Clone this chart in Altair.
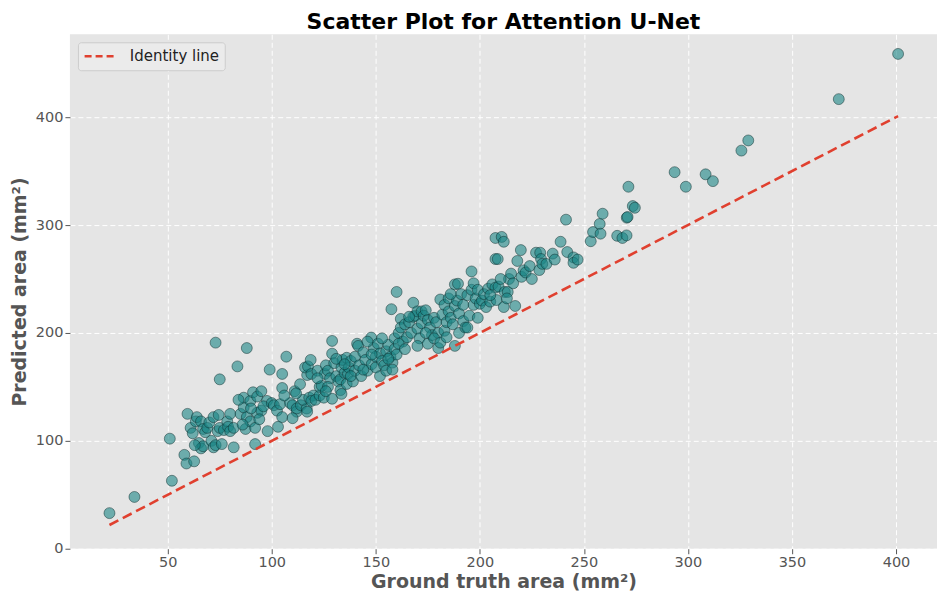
import altair as alt
import pandas as pd

gt_area = [
    22, 34, 51, 52, 58, 59, 59.5, 61, 62, 62.7, 63.5, 64,
    65, 66, 66, 67, 67, 68, 69, 70, 71, 72, 72, 73, 73, 74, 75, 75, 74.5, 76, 77, 78.6, 79, 80, 80, 63,
    81.7, 81.7, 83.5, 85, 86.5, 86.5, 88, 88, 87.4, 89.7, 89.7, 91, 92, 92, 93, 93, 95, 95, 98, 97.7, 99, 84, 90, 96, 86, 94,
    100, 101, 102.5, 104, 105, 105, 105, 107, 108.8, 110, 111, 112, 113.6, 112, 114, 116.8, 117, 115, 118, 117, 116, 117.4, 118.7, 119, 120, 103, 110, 106, 111.7, 119,
    121, 122, 123, 123, 124, 125, 125.5, 126, 127, 128, 129, 129, 129, 130, 131, 132, 133, 133, 133.5, 133.5, 134, 135, 136, 136, 136.6, 137, 138, 139, 140, 140, 141, 131, 127, 135, 138, 126, 122,
    141.5, 142, 143, 144, 145, 146, 147.8, 148, 149, 150, 150, 151, 152, 152, 153, 154, 155, 155, 156, 157, 157.5, 158, 158, 159, 159, 160, 160, 144, 146, 148, 153, 156,
    161, 162, 162, 163, 164, 165, 166, 167, 168, 168, 169, 170, 170, 171, 172, 172, 173, 174, 175, 175, 176, 177, 178, 179, 180, 180, 161, 164, 166, 170, 174, 178,
    181, 181, 182, 183, 183, 184, 185, 185, 186, 187, 188, 188, 189, 189.5, 190, 190, 191, 192, 192, 193, 194, 195, 196, 196, 197, 197, 198, 199, 200, 184, 188, 194, 199, 186,
    201, 202, 203, 204, 205, 206, 207.5, 207.5, 207.5, 208, 208.6, 209, 210.5, 211.5, 211.5, 212, 213.4, 214, 215, 216, 217, 218, 219.7, 220, 221, 213, 210, 205,
    222, 224, 225, 227, 228.6, 229, 229.4, 230, 232, 235, 236, 238.8, 241.4, 242, 245, 245, 247, 253.3, 254.4, 257.6, 258, 259,
    266, 268.5, 270.5, 270.6, 271, 271.4, 273.5, 274.5, 293.6, 299, 308.5, 312, 325.7, 329, 372.5, 401,
]

# Predicted areas (mm²), same order
pred_area = [
    33, 48, 102, 63, 87, 79, 125, 112, 107, 81, 118, 122,
    98, 118, 93, 95, 111, 108, 112, 117, 100, 122, 94, 191, 96, 109, 157, 112, 124, 97, 110, 118, 113, 109, 125, 96,
    112, 94, 169, 125, 131, 140, 186, 122, 111, 137, 118, 145, 112, 97, 141, 126, 146, 128, 109, 137, 166, 138, 130, 132, 115, 120,
    135, 133, 128, 134, 162, 149, 122, 178, 135, 133, 146, 127, 152.5, 130, 133, 130, 127, 138, 140, 161, 168, 169, 175, 162, 142, 113, 121, 142, 144, 137,
    138, 165, 142, 150, 151, 140, 162, 170, 165, 158, 192.6, 180.8, 139, 172, 160, 155, 157, 147, 168, 143.5, 175, 163, 177, 152.7, 162, 168, 174, 155, 165, 178, 190, 176, 150, 171, 160, 146, 158,
    188, 170, 160, 182, 175, 165, 195.7, 171, 186, 178, 168, 190, 160, 181, 174, 170, 183, 165, 189, 178, 222, 172.5, 166, 185, 195, 238, 180, 166, 192, 180, 195, 176,
    200, 213, 205, 192, 208, 196, 210, 200, 228, 215, 216, 204, 220, 195, 220, 209, 216, 221, 190, 212, 205, 198, 214, 210, 186, 200, 190, 185, 215, 188, 200, 195,
    191, 231, 217, 202, 226, 210, 232, 220, 214, 208, 245, 225, 230, 245.6, 218, 200, 236, 211, 226, 205, 235, 216, 257, 240, 246, 226, 232, 214, 227, 196, 188, 205, 240, 236,
    230, 236, 224, 241, 229, 245, 288, 268.5, 242, 230.5, 268.5, 243, 289, 284.5, 224, 238, 238, 250, 255, 246, 225, 266.7, 276.8, 252, 258, 232, 250, 235,
    256, 262, 250, 274.4, 258.3, 274.4, 268.5, 264, 264, 273.5, 268, 284.5, 305, 275, 270, 265, 268, 285, 293.5, 301, 292, 310.5,
    290, 288, 290.4, 306.8, 307.5, 335.5, 317.6, 316, 349, 335.5, 347, 340.7, 369, 378.4, 416.7, 458.6,
]

x_ticks = [50, 100, 150, 200, 250, 300, 350, 400]
y_ticks = [0, 100, 200, 300, 400]
line_label = "Identity line"

pts = pd.DataFrame({"gt": gt_area, "pred": pred_area})
lo, hi = min(gt_area), max(gt_area)
ident = pd.DataFrame({"gt": [lo, hi], "pred": [lo, hi], "label": [line_label, line_label]})

x_scale = alt.Scale(domain=[3, 419.7], nice=False, zero=False)
y_scale = alt.Scale(domain=[0, 476.8], nice=False, zero=False)

x_axis = alt.Axis(values=x_ticks, title="Ground truth area (mm²)")
y_axis = alt.Axis(values=y_ticks, title="Predicted area (mm²)")

points = alt.Chart(pts).mark_circle(
    size=120, color="#1A8585", fillOpacity=0.6, stroke="#0A2A2A",
    strokeOpacity=0.6, strokeWidth=0.8
).encode(
    x=alt.X("gt:Q", scale=x_scale, axis=x_axis),
    y=alt.Y("pred:Q", scale=y_scale, axis=y_axis),
)

line = alt.Chart(ident).mark_line(strokeDash=[10, 5], strokeWidth=2.6).encode(
    x=alt.X("gt:Q", scale=x_scale),
    y=alt.Y("pred:Q", scale=y_scale),
    color=alt.Color(
        "label:N",
        scale=alt.Scale(range=["#E0402F"]),
        legend=alt.Legend(
            title=None, orient="top-left", offset=8,
            symbolType="stroke", symbolDash=[7, 4], symbolStrokeWidth=2.6,
            symbolSize=1000, clipHeight=18, labelFontSize=15, labelColor="#222222",
            labelFont="DejaVu Sans", fillColor="#EBEBEB", strokeColor="#CCCCCC",
            cornerRadius=3, padding=5, labelOffset=12,
        ),
    ),
)

chart = alt.layer(points, line).properties(
    width=868,
    height=515,
    padding={"left": 2, "top": 3, "right": 0, "bottom": 0},
    title=alt.Title(
        "Scatter Plot for Attention U-Net", fontSize=22, fontWeight="bold",
        font="DejaVu Sans", color="#000000", anchor="middle", offset=0,
    ),
).configure_view(
    fill="#E5E5E5", stroke=None
).configure_axis(
    domain=False, grid=True, gridColor="#FFFFFF", gridDash=[5, 3], gridWidth=1,
    tickColor="#555555", tickSize=5, tickWidth=1,
    labelColor="#555555", labelFontSize=14.5, labelFont="DejaVu Sans",
    titleColor="#555555", titleFontSize=19, titleFontWeight="bold", titleFont="DejaVu Sans",
).configure_axisX(titlePadding=3).configure_axisY(titlePadding=6)

chart.save("out.html", embed_options={"renderer": "svg", "actions": False})
